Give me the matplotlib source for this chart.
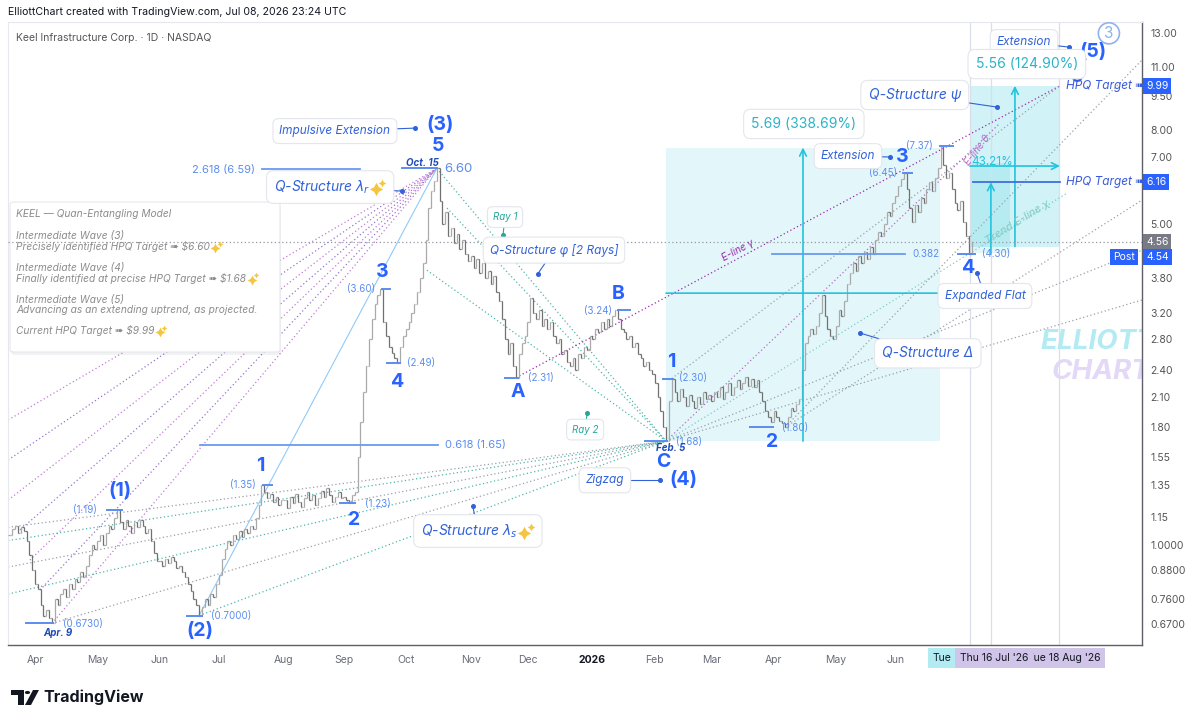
import numpy as np
import pandas as pd
import matplotlib
matplotlib.use("Agg")
import matplotlib.pyplot as plt
from matplotlib.collections import LineCollection
from matplotlib.patches import Rectangle, FancyBboxPatch, Polygon, Circle
from matplotlib.ticker import NullLocator

plt.rcParams["font.family"] = ["Inter", "DejaVu Sans"]

# ---- KEEL daily closes ----
mar_25 = [1.05, 1.08, 1.10, 1.06, 1.09, 1.07, 1.02, 0.95, 0.88]
apr_25 = [0.82, 0.80, 0.74, 0.70, 0.72, 0.69, 0.673, 0.76, 0.74, 0.78, 0.80, 0.77, 0.82, 0.80, 0.84, 0.83, 0.87, 0.85, 0.90, 0.95, 1.00, 0.98]
may_25 = [1.02, 1.05, 1.00, 1.06, 1.10, 1.08, 1.14, 1.19, 1.12, 1.08, 1.13, 1.10, 1.06, 1.12, 1.09, 1.13, 1.10, 1.06, 1.08, 1.02, 0.96, 0.92]
jun_25 = [0.92, 0.90, 0.93, 0.91, 0.94, 0.92, 0.89, 0.90, 0.87, 0.85, 0.82, 0.79, 0.76, 0.74, 0.70, 0.73, 0.76, 0.74, 0.78, 0.77, 0.82]
jul_25 = [0.86, 0.93, 0.98, 1.02, 1.00, 1.05, 1.03, 1.07, 1.04, 1.08, 1.06, 1.10, 1.08, 1.14, 1.22, 1.35, 1.30, 1.26, 1.29, 1.24, 1.27, 1.22, 1.25]
aug_25 = [1.25, 1.20, 1.27, 1.23, 1.29, 1.24, 1.21, 1.26, 1.30, 1.25, 1.28, 1.22, 1.26, 1.31, 1.27, 1.33, 1.28, 1.24, 1.27, 1.30, 1.26]
sep_25 = [1.27, 1.25, 1.23, 1.28, 1.30, 1.55, 1.85, 2.15, 2.45, 2.80, 3.10, 3.35, 3.50, 3.60, 3.05, 2.85, 2.70, 2.62, 2.55, 2.49, 2.70, 2.85]
oct_25 = [2.95, 3.05, 3.20, 3.35, 3.55, 3.80, 4.10, 4.60, 5.40, 5.90, 6.20, 6.60, 5.60, 5.00, 5.30, 4.70, 4.90, 4.55, 4.75, 4.40, 4.60, 4.30, 4.15]
nov_25 = [4.25, 4.00, 4.20, 3.90, 4.10, 3.80, 3.95, 3.70, 3.85, 3.55, 3.40, 3.10, 2.80, 2.60, 2.75, 2.45, 2.31, 2.60, 2.75, 2.85]
dec_25 = [3.05, 3.45, 3.20, 3.10, 3.25, 3.00, 3.10, 2.95, 3.05, 2.85, 2.75, 2.80, 2.60, 2.65, 2.50, 2.45, 2.55, 2.40, 2.60, 2.55, 2.70, 2.65, 2.85]
jan_26 = [2.80, 2.95, 2.90, 3.05, 2.95, 3.10, 3.00, 3.15, 3.24, 3.10, 2.95, 2.90, 2.80, 2.85, 2.70, 2.75, 2.60, 2.55, 2.45, 2.50, 2.40, 2.35]
feb_26 = [2.25, 2.10, 1.95, 1.80, 1.68, 2.05, 2.30, 2.15, 2.05, 2.18, 2.10, 2.00, 2.12, 2.05, 1.98, 2.10, 2.02, 2.15, 2.08, 2.12]
mar_26 = [2.05, 2.15, 2.10, 2.20, 2.08, 2.15, 2.25, 2.12, 2.20, 2.28, 2.18, 2.25, 2.32, 2.22, 2.30, 2.20, 2.28, 2.15, 2.05, 1.95, 1.90, 1.85]
apr_26 = [1.95, 1.90, 1.86, 1.84, 1.80, 1.90, 1.98, 1.95, 2.02, 2.08, 2.40, 2.75, 2.85, 2.95, 2.88, 3.00, 3.20, 3.50, 3.15, 2.95, 2.85, 2.80]
may_26 = [3.00, 3.25, 3.15, 3.40, 3.70, 3.90, 4.10, 3.95, 4.25, 4.10, 4.35, 4.20, 4.45, 4.30, 4.60, 4.80, 4.70, 5.00, 5.30, 5.20, 5.55]
jun_26 = [5.75, 6.05, 6.25, 6.45, 5.95, 5.40, 5.05, 5.50, 5.30, 5.70, 5.55, 5.95, 6.15, 5.90, 6.30, 6.60, 7.37, 6.70, 6.30, 6.45, 5.95, 5.55]
jul_26 = [5.35, 5.60, 5.05, 4.70, 4.30, 4.56]

closes = np.array(mar_25 + apr_25 + may_25 + jun_25 + jul_25 + aug_25 + sep_25 + oct_25 + nov_25
                  + dec_25 + jan_26 + feb_26 + mar_26 + apr_26 + may_26 + jun_26 + jul_26)
dates = pd.bdate_range("2025-03-19", periods=len(closes))

price_ticks = [0.67, 0.76, 0.88, 1.0, 1.15, 1.35, 1.55, 1.8, 2.1, 2.4, 2.8, 3.2, 3.8, 5.0, 7.0, 8.0, 9.5, 11.0, 13.0]
month_names = ["Apr", "May", "Jun", "Jul", "Aug", "Sep", "Oct", "Nov", "Dec", "2026",
               "Feb", "Mar", "Apr", "May", "Jun"]

BLUE = "#2962ff"
SBLUE = "#5b8def"
CBLUE = "#3162d8"
DBLUE = "#1e4bb8"
TEAL = "#26a69a"
CYAN = "#22c3dd"
GOLD = "#f5c542"

W, H = 1199, 724
L, R, T, B = 8, 1142, 22, 645
fig = plt.figure(figsize=(W / 100, H / 100), dpi=100)
ax = fig.add_axes([L / W, 1 - B / H, (R - L) / W, (B - T) / H])
ax.set_yscale("log")
ax.set_xlim(-0.54, 400.2)
ax.set_ylim(0.604, 13.76)


def axf(px):
    return (px - L) / (R - L)


def ayf(py):
    return (B - py) / (B - T)


# ---- OHLC bars ----
x = np.arange(len(closes))
opens = np.r_[closes[0], closes[:-1]]
hi = np.maximum(opens, closes)
lo = np.minimum(opens, closes)
segs, cols = [], []
for i in x:
    c = "#a9a9a9" if closes[i] >= opens[i] else "#707070"
    segs += [[(i, lo[i]), (i, hi[i])], [(i - 0.45, opens[i]), (i, opens[i])], [(i, closes[i]), (i + 0.45, closes[i])]]
    cols += [c] * 3
ax.add_collection(LineCollection(segs, colors=cols, linewidths=0.9, zorder=3))

# ---- axes styling ----
for s in ["top", "left"]:
    ax.spines[s].set_color("#e6e8ee")
    ax.spines[s].set_linewidth(0.8)
for s in ["bottom", "right"]:
    ax.spines[s].set_color("#5d606b")
    ax.spines[s].set_linewidth(1.0)
ax.yaxis.tick_right()
ax.set_yticks(price_ticks)
ax.set_yticklabels([f"{v:.4f}" if v <= 1 else f"{v:.2f}" for v in price_ticks])
ax.yaxis.set_minor_locator(NullLocator())
ax.tick_params(axis="y", length=0, pad=6, labelsize=7.5, labelcolor="#555555")
month_idx = [i for i in range(1, len(dates)) if dates[i].month != dates[i - 1].month][:len(month_names)]
ax.set_xticks(month_idx)
ax.set_xticklabels(month_names)
ax.tick_params(axis="x", length=0, pad=7, labelsize=7.5, labelcolor="#6a6d78")
for lbl in ax.get_xticklabels():
    if lbl.get_text() == "2026":
        lbl.set_fontweight("bold")
        lbl.set_color("#131722")

# date marker lines in the future space
for xv in [339.4, 346.8, 370.8]:
    ax.axvline(xv, color="#d8dfeb", lw=0.9, zorder=1)

# ---- cyan projection boxes ----
ax.add_patch(Rectangle((232, 1.68), 328.8 - 232, 7.33 - 1.68, fc="#00bcd4", alpha=0.11, ec="none", zorder=0.5))
ax.add_patch(Rectangle((339.4, 4.46), 371.2 - 339.4, 9.99 - 4.46, fc="#00bcd4", alpha=0.18, ec="none", zorder=0.5))
ax.add_patch(Rectangle((339.4, 4.32), 353.5 - 339.4, 6.77 - 4.32, fc="#00bcd4", alpha=0.12, ec="none", zorder=0.6))


def arrow(x0, y0, x1, y1):
    ax.annotate("", xy=(x1, y1), xytext=(x0, y0),
                arrowprops=dict(arrowstyle="->", color=CYAN, lw=1.2, shrinkA=0, shrinkB=0, mutation_scale=12),
                zorder=4)


arrow(280.4, 1.68, 280.4, 7.33)
arrow(232, 3.53, 331.6, 3.53)
arrow(355.3, 4.46, 355.3, 9.99)
arrow(339.4, 6.68, 371.2, 6.68)
arrow(346.8, 4.30, 346.8, 6.16)
ax.text(339.8, 6.80, "43.21%", color=CYAN, fontsize=8.5, ha="left", va="center", zorder=7)

# ---- dotted fan lines ----
PEAK = (151, 6.60)
C_LOW = (232, 1.68)
A_LOW = (179, 2.31)
W2_LOW = (274, 1.80)


def dline(p0, p1, color, lw=0.9):
    ax.plot([p0[0], p1[0]], [p0[1], p1[1]], ls=(0, (1, 2)), color=color, lw=lw, zorder=2)


purple_starts = [(15, 0.673), (10.8, 0.796), (7.2, 0.925), (3.7, 1.076), (-0.5, 1.25), (-0.5, 1.528), (-0.5, 1.868)]
for k, st in enumerate(purple_starts):
    dline(st, PEAK, "#9575cd" if k % 2 else "#c27bd6")
for st in [PEAK, (147.5, 3.96), (154.6, 5.41)]:
    dline(st, C_LOW, "#4db6ac")
for k, st in enumerate([(-0.5, 1.09), (-0.5, 1.02), (-0.5, 0.893), (-0.5, 0.78), (15, 0.673), (67, 0.70)]):
    dline(st, C_LOW, "#4db6ac" if k % 2 else "#9aa0aa")
dline(A_LOW, (371.2, 9.99), "#9c27b0")
dline((234, 2.30), (371.2, 9.99), "#9aa0aa")
dline(C_LOW, (350, 8.28), "#ba68c8")
dline(C_LOW, (373.7, 5.83), "#80cbc4")
dline(C_LOW, (400.2, 4.38), "#9aa0aa")
dline(C_LOW, (400.2, 3.41), "#9aa0aa")
dline(W2_LOW, (400.2, 11.37), "#9aa0aa")
dline(W2_LOW, (400.2, 5.63), "#9aa0aa")
ax.plot([67, 151], [0.70, 6.60], color="#90caf9", lw=0.8, zorder=2)

# ---- fib levels and pivot markers ----
for x0, x1, p in [(89.2, 123.8, 6.59), (67.3, 151.4, 1.65), (269.4, 316.4, 4.30)]:
    ax.plot([x0, x1], [p, p], color="#6a9af0", lw=1.3, zorder=4)
ax.text(86.7, 6.55, "2.618 (6.59)", color=SBLUE, fontsize=8, ha="right", va="center", zorder=7)
ax.text(153.9, 1.65, "0.618 (1.65)", color=SBLUE, fontsize=8, ha="left", va="center", zorder=7)
ax.plot([340.4, 371.2], [6.16, 6.16], color="#3f6fe0", lw=1.3, zorder=4)

pivot_marks = [(5.8, 15.4, 0.673), (34.5, 39.7, 1.19), (62.7, 68.0, 0.70), (89.6, 92.7, 1.35),
               (116.8, 122.0, 1.23), (131.6, 134.4, 3.60), (133.4, 138.0, 2.49), (138.7, 151.0, 6.60),
               (175.0, 179.7, 2.31), (215.0, 219.3, 3.24), (224.6, 232.3, 1.68), (231.0, 234.5, 2.30),
               (261.6, 269.8, 1.80), (315.7, 318.9, 6.45), (328.8, 333.4, 7.37), (335.2, 341.2, 4.30)]
for x0, x1, p in pivot_marks:
    ax.plot([x0, x1], [p, p], color=SBLUE, lw=1.4, zorder=4)

# ---- wave labels ----
waves = [("(1)", 39.0, 1.31), ("(2)", 67.3, 0.648), ("(3)", 152.1, 8.21), ("5", 151.4, 7.39),
         ("(4)", 238.0, 1.38), ("(5)", 382.8, 11.85), ("5", 377.2, 10.45), ("1", 88.5, 1.48),
         ("2", 121.7, 1.13), ("3", 131.6, 3.93), ("4", 137.3, 2.26), ("A", 179.7, 2.15),
         ("B", 215.0, 3.51), ("C", 231.2, 1.51), ("1", 233.7, 2.50), ("2", 269.4, 1.67),
         ("3", 315.4, 6.99), ("4", 338.9, 4.00)]
for s, xv, p in waves:
    ax.text(xv, p, s, color=BLUE, fontsize=14, fontweight="bold", ha="center", va="center", zorder=7)

small = [("(1.19)", 26.7, 1.19), ("(0.6730)", 26.0, 0.67), ("(0.7000)", 78.3, 0.70), ("(1.35)", 82.5, 1.35),
         ("(1.23)", 130.2, 1.225), ("(3.60)", 124.2, 3.60), ("(2.49)", 145.4, 2.49), ("(2.31)", 187.8, 2.31),
         ("(3.24)", 207.9, 3.23), ("(1.68)", 240.1, 1.67), ("(2.30)", 241.5, 2.31), ("(1.80)", 277.5, 1.79),
         ("(6.45)", 308.6, 6.45), ("(7.37)", 321.7, 7.37), ("(4.30)", 348.6, 4.30), ("0.382", 323.9, 4.30)]
for s, xv, p in small:
    ax.text(xv, p, s, color=SBLUE, fontsize=7, ha="center", va="center", zorder=7)
for s, xv, p in [("Apr. 9", 17.1, 0.641), ("Oct. 15", 145.8, 6.77), ("Feb. 5", 233.7, 1.62)]:
    ax.text(xv, p, s, color=DBLUE, fontsize=7, fontweight="bold", fontstyle="italic", ha="center", va="center", zorder=7)
ax.text(158.5, 6.58, "6.60", color=SBLUE, fontsize=9.5, ha="center", va="center", zorder=7)

# ---- callouts ----
BOX = dict(boxstyle="round,pad=0.55,rounding_size=0.5", fc="white", ec="#e3e6ec", lw=0.8)
spark_after = []   # (text artist, offset in px from its right edge, size)


def callout(s, xt, yt, xd, yd, color=CBLUE, size=8.5, spark=False):
    ax.plot([xt, xd], [yt, yd], color=color, lw=0.8, zorder=8)
    ax.plot(xd, yd, "o", ms=2.6, color=color, zorder=8)
    t = ax.text(xt, yt, s + ("\u00a0" * 5 if spark else ""), color=color, fontsize=size, fontstyle="italic",
                ha="center", va="center", bbox=BOX, zorder=9)
    if spark:
        spark_after.append((t, -8, size))


callout("Impulsive Extension", 115.0, 7.96, 143.3, 8.08)
callout(r"Q-Structure $\lambda_r$", 113.3, 6.01, 138.7, 5.89, size=10, spark=True)
callout("Ray 1", 175.1, 5.17, 174.4, 4.73, color=TEAL, size=7)
callout("Q-Structure φ [2 Rays]", 192.4, 4.38, 186.7, 3.89)
callout("Ray 2", 203.4, 1.78, 204.1, 1.93, color=TEAL, size=7)
callout("Zigzag", 210.4, 1.38, 229.9, 1.38)
callout(r"Q-Structure $\lambda_s$", 165.5, 1.07, 163.7, 1.213, size=10, spark=True)
callout("Extension", 296.3, 7.02, 311.1, 6.99)
callout("Q-Structure Δ", 324.5, 2.61, 300.5, 2.89, size=10)
callout("Expanded Flat", 344.7, 3.48, 341.9, 3.90)
callout("Q-Structure ψ", 319.9, 9.54, 348.9, 8.98, size=10)
callout("Extension", 358.5, 12.44, 374.5, 12.13)
for s, xv, p in [("5.69 (338.69%)", 280.7, 8.25), ("5.56 (124.90%)", 359.5, 11.14)]:
    ax.text(xv, p, s, color="#2bb3c8", fontsize=10, ha="center", va="center", bbox=BOX, zorder=9)
for p in [9.99, 6.16]:
    ax.text(373.3, p, "HPQ Target ➠", color="#3a5bd9", fontsize=8.5, fontstyle="italic",
            ha="left", va="center", zorder=9)

ax.text(257.4, 4.38, "E-line γ", color="#9c27b0", fontsize=7, fontstyle="italic", rotation=28,
        ha="center", va="center", zorder=7)
ax.text(341.9, 7.24, "E-line θ", color="#ba68c8", fontsize=7, fontstyle="italic", rotation=52,
        ha="center", va="center", zorder=7)
ax.text(356.3, 5.04, "Trend E-line χ", color="#80cbc4", fontsize=8, fontstyle="italic", rotation=32,
        ha="center", va="center", zorder=7)
ax.text(384.5, 2.76, "ELLIOTT", color="#b2ebf2", fontsize=20, fontweight="bold", fontstyle="italic",
        ha="center", va="center", zorder=1, clip_on=True)
ax.text(385.5, 2.375, "CHART", color="#e3d8f7", fontsize=20, fontweight="bold", fontstyle="italic",
        ha="center", va="center", zorder=1, clip_on=True)
ax.text(388.5, 13.0, "3", color="#8fb3ef", fontsize=11, ha="center", va="center", zorder=9,
        bbox=dict(boxstyle="circle,pad=0.2", fc="white", ec="#8fb3ef", lw=1.2))

# ---- current price line and axis tags ----
ax.axhline(4.56, ls=(0, (1, 2)), color="#9598a1", lw=0.9, zorder=6)
ytr = ax.get_yaxis_transform()
for p, s, fc in [(9.99, "9.99", BLUE), (6.16, "6.16", BLUE), (4.56, "4.56", "#787b86"), (4.23, "4.54", BLUE)]:
    ax.text(1.0 + 4 / (R - L), p, s, transform=ytr, ha="left", va="center", fontsize=7.5, color="white",
            clip_on=False, bbox=dict(boxstyle="square,pad=0.3", fc=fc, ec="none"), zorder=10)
ax.text(1.0 - 7 / (R - L), 4.23, "Post", transform=ytr, ha="right", va="center", fontsize=7.5,
        color="white", clip_on=False, bbox=dict(boxstyle="square,pad=0.3", fc=BLUE, ec="none"), zorder=10)

# ---- left info panel ----
ax.add_patch(FancyBboxPatch((axf(11), ayf(355)), axf(281) - axf(11), ayf(202) - ayf(352),
                            boxstyle="round,pad=0,rounding_size=0.004", transform=ax.transAxes,
                            fc="black", alpha=0.05, ec="none", zorder=5))
ax.add_patch(FancyBboxPatch((axf(10), ayf(352)), axf(280) - axf(10), ayf(202) - ayf(352),
                            boxstyle="round,pad=0,rounding_size=0.004", transform=ax.transAxes,
                            fc="white", ec="#e6e8ee", lw=0.8, zorder=5))
panel_lines = [("KEEL — Quan-Entangling Model", 214, False),
               ("Intermediate Wave (3)", 236, False),
               (r"Precisely identified HPQ Target ➠ \$6.60", 247, True),
               ("Intermediate Wave (4)", 268, False),
               (r"Finally identified at precise HPQ Target ➠ \$1.68", 278, True),
               ("Intermediate Wave (5)", 300, False),
               ("Advancing as an extending uptrend, as projected.", 310, False),
               (r"Current HPQ Target ➠ \$9.99", 331, True)]
for s, py, spark in panel_lines:
    t = ax.text(axf(16), ayf(py), s, transform=ax.transAxes, fontsize=7.3, color="#8c8c8c",
                fontstyle="italic", ha="left", va="center", zorder=5.5)
    if spark:
        spark_after.append((t, 7, 7.3))

# ---- header, footer, time-axis tags ----
fig.text(8 / W, 1 - 12 / H, "ElliottChart created with TradingView.com, Jul 08, 2026 23:24 UTC",
         fontsize=7.6, color="#131722", va="center")
fig.text(16 / W, 1 - 38 / H, "Keel Infrastructure Corp. · 1D · NASDAQ", fontsize=7.5, color="#555555", va="center")

fig.text(933 / W, 1 - 658 / H, "Tue", fontsize=7.5, color="#131722", va="center", ha="left",
         bbox=dict(boxstyle="square,pad=0.45", fc="#b2ebf2", ec="none"))
fig.text(1064 / W, 1 - 658 / H, "Tue 18 Aug '26", fontsize=7.5, color="#131722", va="center", ha="center",
         bbox=dict(boxstyle="square,pad=0.45", fc="#d1c4e9", ec="none"))
fig.text(994 / W, 1 - 658 / H, "Thu 16 Jul '26", fontsize=7.5, color="#131722", va="center", ha="center",
         bbox=dict(boxstyle="square,pad=0.45", fc="#d1c4e9", ec="none"))


# TradingView logo
def fpt(px, py):
    return (px / W, 1 - py / H)


logo = "#131722"
fig.add_artist(Polygon([fpt(11, 690), fpt(24, 690), fpt(24, 705), fpt(18, 705), fpt(18, 695), fpt(11, 695)],
                       closed=True, transform=fig.transFigure, fc=logo, ec="none"))
fig.add_artist(Circle(fpt(27.5, 692.5), 2.6 / W, transform=fig.transFigure, fc=logo, ec="none"))
fig.add_artist(Polygon([fpt(25, 705), fpt(31, 705), fpt(39, 690), fpt(33, 690)],
                       closed=True, transform=fig.transFigure, fc=logo, ec="none"))
fig.text(43 / W, 1 - 697 / H, "TradingView", fontsize=11.5, fontweight="bold", color=logo, va="center")

# sparkle signs (no installed font has the glyph): two small yellow four-point stars
fig.canvas.draw()
inv = ax.transAxes.inverted()
for t, off, size in spark_after:
    bb = t.get_window_extent()
    cx, cy = bb.x1 + off, (bb.y0 + bb.y1) / 2
    s = size / 7.3
    for dx, dy, ms in [(-1.5 * s, -1.5 * s, 7 * s), (3.0 * s, 3.0 * s, 4 * s)]:
        ax_pt = inv.transform((cx + dx, cy + dy))
        ax.plot(ax_pt[0], ax_pt[1], marker=(4, 1, 0), ms=ms, color=GOLD, mec="none",
                transform=ax.transAxes, zorder=11, clip_on=False)

fig.savefig("out.png", dpi=100, facecolor="white")
